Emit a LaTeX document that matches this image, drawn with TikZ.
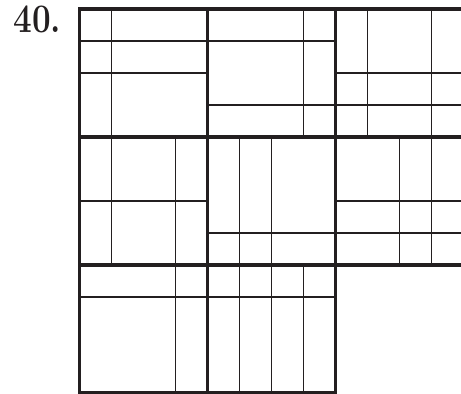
\documentclass[tikz,border=0pt]{standalone}
\usepackage{tikz}
\usepackage{xcolor}
\definecolor{inkblack}{HTML}{231F20}

\begin{document}
\begin{tikzpicture}[
		line width=1.4pt,
		line cap=rect,
		line join=miter,
		inkblack
		]
		\useasboundingbox (-2.484,-0.031) rectangle (11.922,12.281);
		
		\node[anchor=base west, inner sep=0pt, xscale=0.82, font=\fontsize{36}{36}\selectfont\bfseries] (num) at (-2.08,11.25) {40.};
		
		% top row
		\begin{scope}[xshift=0cm, yshift=8cm]
			\draw (1,0) -- (1,4);
			\foreach \r in {2,3} {
				\draw (0,\r) -- (4,\r);
			}
		\end{scope}
		
		\begin{scope}[xshift=4cm, yshift=8cm]
			\draw (3,0) -- (3,4);
			\foreach \r in {1,3} {
				\draw (0,\r) -- (4,\r);
			}
		\end{scope}
		
		\begin{scope}[xshift=8cm, yshift=8cm]
			\foreach \c in {1,3} {
				\draw (\c,0) -- (\c,4);
			}
			\foreach \r in {1,2} {
				\draw (0,\r) -- (4,\r);
			}
		\end{scope}
		
		% middle row
		\begin{scope}[xshift=0cm, yshift=4cm]
			\foreach \c in {1,3} {
				\draw (\c,0) -- (\c,4);
			}
			\draw (0,2) -- (4,2);
		\end{scope}
		
		\begin{scope}[xshift=4cm, yshift=4cm]
			\foreach \c in {1,2} {
				\draw (\c,0) -- (\c,4);
			}
			\draw (0,1) -- (4,1);
		\end{scope}
		
		\begin{scope}[xshift=8cm, yshift=4cm]
			\foreach \c in {2,3} {
				\draw (\c,0) -- (\c,4);
			}
			\foreach \r in {1,2} {
				\draw (0,\r) -- (4,\r);
			}
		\end{scope}
		
		% bottom row
		\begin{scope}[xshift=0cm, yshift=0cm]
			\draw (3,0) -- (3,4);
			\draw (0,3) -- (4,3);
		\end{scope}
		
		\begin{scope}[xshift=4cm, yshift=0cm]
			\foreach \c in {1,2,3} {
				\draw (\c,0) -- (\c,4);
			}
			\draw (0,3) -- (4,3);
		\end{scope}
		
		% block borders
		\begin{scope}[line width=3pt]
			\foreach \x/\y in {0/0,4/0,0/4,4/4,8/4,0/8,4/8,8/8} {
				\draw (\x,\y) rectangle ++(4,4);
			}
		\end{scope}
		
	\end{tikzpicture}
\end{document}
